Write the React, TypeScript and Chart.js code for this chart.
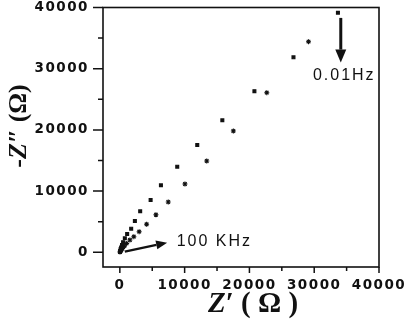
import React, { useEffect, useRef } from "react";
import { Chart, registerables } from "chart.js";
Chart.register(...registerables);

// Nyquist data (Z' real, -Z'' imaginary), in ohms
const squareRe = [33660, 26800, 20770, 15820, 11950, 8860, 6340, 4750, 3140, 2320, 1750, 1130, 770, 500, 330, 200, 110, 50, 15];
const squareIm = [39150, 31860, 26310, 21570, 17530, 13990, 10950, 8550, 6700, 5110, 3860, 2990, 2290, 1650, 1200, 800, 480, 220, 60];
const starRe = [29120, 22680, 17520, 13410, 10050, 7470, 5570, 4130, 2980, 2160, 1550, 1050, 700, 420, 220, 90, 20];
const starIm = [34410, 26080, 19820, 14920, 11160, 8220, 6140, 4580, 3370, 2550, 2010, 1450, 1000, 620, 330, 140, 40];

const xTickValues = [0, 10000, 20000, 30000, 40000];
const yTickValues = [0, 10000, 20000, 30000, 40000];
const minorTickValues = [5000, 15000, 25000, 35000];

const lowFreqLabel = "0.01Hz";
const highFreqLabel = "100 KHz";
// annotation anchor points in data units
const lowArrowFrom = [34100, 38300];
const lowArrowTo = [34100, 31000];
const lowLabelAt = [34640, 28800];
const highArrowFrom = [770, 100];
const highArrowTo = [7300, 1580];
const highLabelAt = [8770, 1730];

export default function App() {
  const ref = useRef<HTMLCanvasElement>(null);
  useEffect(() => {
    const canvas = ref.current!;
    const arrow = (ctx: CanvasRenderingContext2D, x1: number, y1: number, x2: number, y2: number, hl: number, hw: number, lw: number) => {
      const a = Math.atan2(y2 - y1, x2 - x1);
      const bx = x2 - Math.cos(a) * hl, by = y2 - Math.sin(a) * hl;
      ctx.beginPath();
      ctx.lineWidth = lw;
      ctx.moveTo(x1, y1);
      ctx.lineTo(bx, by);
      ctx.stroke();
      ctx.beginPath();
      ctx.moveTo(x2, y2);
      ctx.lineTo(bx + Math.sin(a) * hw / 2, by - Math.cos(a) * hw / 2);
      ctx.lineTo(bx - Math.sin(a) * hw / 2, by + Math.cos(a) * hw / 2);
      ctx.closePath();
      ctx.fill();
    };
    const decor = {
      id: "decor",
      beforeDraw(chart: any) {
        (chart.ctx as any).letterSpacing = "1.5px";
      },
      beforeDatasetsDraw(chart: any) {
        (chart.ctx as any).letterSpacing = "0px";
      },
      afterDraw(chart: any) {
        const ctx: CanvasRenderingContext2D = chart.ctx;
        (ctx as any).letterSpacing = "0px";
        const { left, right, top, bottom } = chart.chartArea;
        const xs = chart.scales.x, ys = chart.scales.y;
        ctx.save();
        ctx.strokeStyle = "#111";
        ctx.fillStyle = "#111";
        ctx.lineWidth = 1.6;
        ctx.strokeRect(left, top, right - left, bottom - top);
        ctx.lineWidth = 1.5;
        ctx.beginPath();
        yTickValues.forEach((v) => { const p = ys.getPixelForValue(v); ctx.moveTo(left - 10, p); ctx.lineTo(left, p); });
        minorTickValues.forEach((v) => { const p = ys.getPixelForValue(v); ctx.moveTo(left - 5, p); ctx.lineTo(left, p); });
        xTickValues.forEach((v) => { const p = xs.getPixelForValue(v); ctx.moveTo(p, bottom); ctx.lineTo(p, bottom + 6); });
        minorTickValues.forEach((v) => { const p = xs.getPixelForValue(v); ctx.moveTo(p, bottom); ctx.lineTo(p, bottom + 4); });
        ctx.stroke();

        // arrows
        arrow(ctx, xs.getPixelForValue(lowArrowFrom[0]), ys.getPixelForValue(lowArrowFrom[1]), xs.getPixelForValue(lowArrowTo[0]), ys.getPixelForValue(lowArrowTo[1]), 13, 11, 3);
        arrow(ctx, xs.getPixelForValue(highArrowFrom[0]), ys.getPixelForValue(highArrowFrom[1]), xs.getPixelForValue(highArrowTo[0]), ys.getPixelForValue(highArrowTo[1]), 11, 9, 2.2);

        // labels
        ctx.font = "16px 'Liberation Sans', Arial, sans-serif";
        (ctx as any).letterSpacing = "2px";
        ctx.textBaseline = "middle";
        ctx.textAlign = "center";
        ctx.fillText(lowFreqLabel, xs.getPixelForValue(lowLabelAt[0]), ys.getPixelForValue(lowLabelAt[1]));
        ctx.textAlign = "left";
        ctx.fillText(highFreqLabel, xs.getPixelForValue(highLabelAt[0]), ys.getPixelForValue(highLabelAt[1]));
        (ctx as any).letterSpacing = "0px";

        // axis titles with mixed styles
        const drawParts = (parts: [string, string][], cx: number, cy: number) => {
          let w = 0;
          parts.forEach(([t, f]) => { ctx.font = f; w += ctx.measureText(t).width; });
          let x = cx - w / 2;
          ctx.textAlign = "left";
          ctx.textBaseline = "middle";
          parts.forEach(([t, f]) => { ctx.font = f; ctx.fillText(t, x, cy); x += ctx.measureText(t).width; });
        };
        const serifB = "bold 29px 'Liberation Serif', 'Times New Roman', serif";
        const serifBI = "italic bold 29px 'Liberation Serif', 'Times New Roman', serif";
        drawParts([["Z", serifBI], ["\u2032 ( \u03A9 )", serifB]], 253, 305);
        ctx.save();
        ctx.translate(19, 126);
        ctx.rotate(-Math.PI / 2);
        const serifB2 = "bold 26px 'Liberation Serif', 'Times New Roman', serif";
        const serifBI2 = "italic bold 26px 'Liberation Serif', 'Times New Roman', serif";
        drawParts([["-", serifB2], ["Z", serifBI2], ["\u2033 (\u03A9)", serifB2]], 0, 0);
        ctx.restore();
        ctx.restore();
      },
    };
    const tickFont = { family: "'DejaVu Sans', sans-serif", size: 13.5, weight: "bold" as const, lineHeight: 1 };
    const hiddenGrid = (len: number) => ({ display: true, drawOnChartArea: false, drawTicks: true, tickLength: len, color: "rgba(0,0,0,0)", tickColor: "rgba(0,0,0,0)" });
    const chart = new Chart(canvas, {
      type: "scatter",
      data: {
        datasets: [
          {
            data: squareRe.map((x, i) => ({ x, y: squareIm[i] })),
            pointStyle: "rect",
            pointRadius: 2,
            borderWidth: 1.2,
            borderColor: "#111",
            backgroundColor: "#111",
          },
          {
            data: starRe.map((x, i) => ({ x, y: starIm[i] })),
            pointStyle: "star",
            pointRadius: 2.5,
            borderWidth: 1.1,
            borderColor: "#111",
            backgroundColor: "#111",
          },
        ],
      },
      options: {
        responsive: false,
        animation: false,
        devicePixelRatio: 1,
        layout: { padding: { left: 0, right: 29, top: 7.5, bottom: 0 } },
        plugins: { legend: { display: false }, tooltip: { enabled: false } },
        scales: {
          x: {
            type: "linear",
            min: -2600,
            max: 40000,
            grid: hiddenGrid(11.5),
            border: { display: false },
            ticks: { includeBounds: false, color: "#111", font: tickFont, padding: 0, maxRotation: 0, autoSkip: false, callback: (v: any) => String(v) },
            afterBuildTicks: (s: any) => { s.ticks = xTickValues.map((value) => ({ value })); },
            afterFit: (s: any) => { s.height = 54; },
          },
          y: {
            type: "linear",
            min: -2400,
            max: 40000,
            grid: hiddenGrid(14),
            border: { display: false },
            ticks: { includeBounds: false, color: "#111", font: tickFont, padding: 0, autoSkip: false, callback: (v: any) => String(v) },
            afterBuildTicks: (s: any) => { s.ticks = yTickValues.map((value) => ({ value })); },
            afterFit: (s: any) => { s.width = 103; },
          },
        },
      },
      plugins: [decor],
    });
    return () => chart.destroy();
  }, []);
  return (
    <div style={{ position: "fixed", left: 0, top: 0, width: 408, height: 321, background: "#fff" }}>
      <canvas ref={ref} width={408} height={321} style={{ display: "block" }} />
    </div>
  );
}
